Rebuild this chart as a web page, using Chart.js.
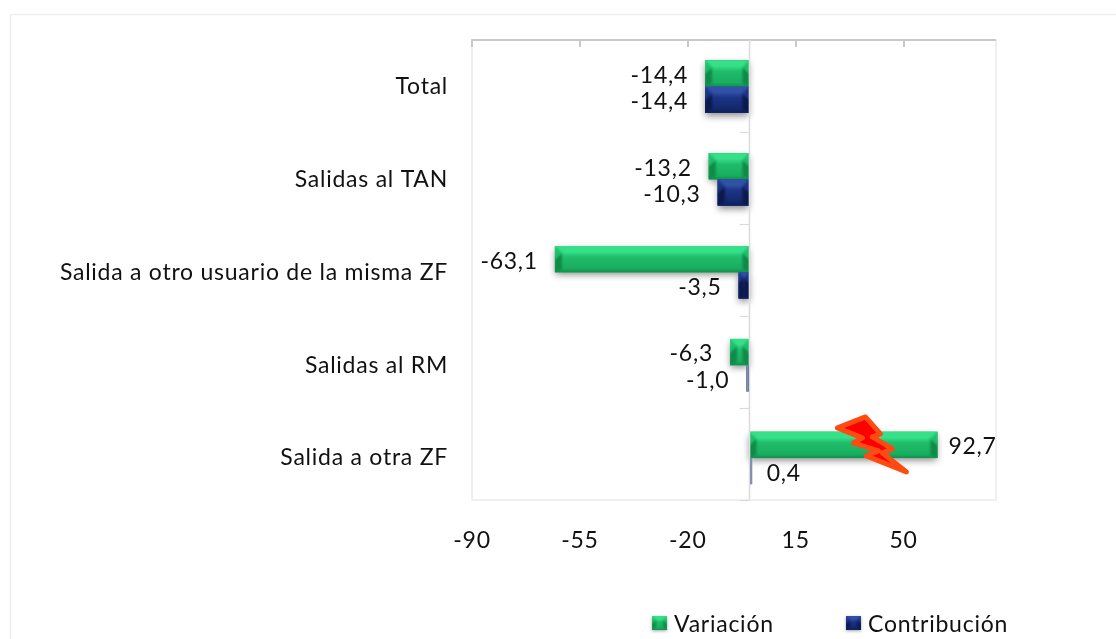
<!DOCTYPE html>
<html lang="es"><head><meta charset="utf-8">
<style>html,body{margin:0;padding:0;background:#fff}canvas{display:block}</style>
<script src="https://cdn.jsdelivr.net/npm/chart.js@4/dist/chart.umd.min.js"></script>
</head><body><div style="width:1116px;height:639px"><canvas id="c"></canvas></div>
<script>
const categories = ["Total","Salidas al TAN","Salida a otro usuario de la misma ZF","Salidas al RM","Salida a otra ZF"];
const seriesNames = ["Variación","Contribución"];
const variacion = [-14.4,-13.2,-63.1,-6.3,92.7];
const contribucion = [-14.4,-10.3,-3.5,-1.0,0.4];
// The reference cuts the last bar (lightning mark): 92,7 is drawn only as long as 61 on the axis.
const variacionDibujada = [-14.4,-13.2,-63.1,-6.3,61];
const tickValues = [-90,-55,-20,15,50];
const FONT = "Lato, sans-serif";
const fmt = v => v.toFixed(1).replace(".",",");
const GREEN = {main:"#19ad60",top:"#35e088",mid:"#1fbd6b",low:"#11904c",corner:"#0f8a48"};
const BLUE = {main:"#12286e",top:"#3150a8",mid:"#1c3585",low:"#0d1f58",corner:"#0b1a4e"};
const styles=[GREEN,BLUE];
const shown=[variacion,contribucion];
const FRAME_BOTTOM=500;

function bevel(ctx,x0,y0,x1,y1,s){
  const w=x1-x0,h=y1-y0;
  if(w<4)return;
  const g=ctx.createLinearGradient(0,y0,0,y1);
  g.addColorStop(0,s.top);g.addColorStop(.22,s.top);g.addColorStop(.42,s.mid);g.addColorStop(.85,s.main);g.addColorStop(1,s.low);
  ctx.fillStyle=g;ctx.fillRect(x0,y0,w,h);
  const d=Math.min(7,w/2,h/3.5);
  const poly=(c,p)=>{ctx.fillStyle=c;ctx.beginPath();p.forEach((q,i)=>i?ctx.lineTo(q[0],q[1]):ctx.moveTo(q[0],q[1]));ctx.closePath();ctx.fill();};
  ctx.save();
  ctx.filter="blur(0.8px)";
  ctx.beginPath();ctx.rect(x0,y0,w,h);ctx.clip();
  // corner wedges only, the long sides stay flat
  poly(s.mid,[[x0,y0],[x0+d,y0+d],[x0,y0+2*d]]);
  poly(s.mid,[[x1,y0],[x1-d,y0+d],[x1,y0+2*d]]);
  poly(s.corner,[[x0,y0+2*d],[x0+d,y0+d],[x0+d,y1-3],[x0,y1]]);
  poly(s.corner,[[x1,y0+2*d],[x1-d,y0+d],[x1-d,y1-3],[x1,y1]]);
  ctx.restore();
}
const deco={
  id:"deco",
  beforeDraw(ch){ch.ctx.letterSpacing="0.75px";},
  beforeDatasetsDraw(ch){
    const c=ch.ctx,a=ch.chartArea,xs=ch.scales.x;
    c.save();
    c.strokeStyle="#efefef";c.lineWidth=1.5;
    c.beginPath();c.moveTo(10.5,639);c.lineTo(10.5,14.5);c.lineTo(1116,14.5);c.stroke();
    c.strokeStyle="#ececec";c.lineWidth=1.5;
    c.beginPath();c.moveTo(a.left,a.top);c.lineTo(a.left,FRAME_BOTTOM);c.lineTo(a.right,FRAME_BOTTOM);c.lineTo(a.right,a.top);c.stroke();
    c.strokeStyle="#c8c8c8";c.lineWidth=2;
    c.beginPath();c.moveTo(a.left-1,a.top);c.lineTo(a.right,a.top);c.stroke();
    tickValues.forEach(v=>{const x=Math.round(xs.getPixelForValue(v));c.beginPath();c.moveTo(x,a.top);c.lineTo(x,a.top+7);c.stroke();});
    ch.data.datasets.forEach((d,di)=>ch.getDatasetMeta(di).data.forEach(b=>{
      const x0=Math.min(b.x,b.base),x1=Math.max(b.x,b.base),y0=b.y-b.height/2,y1=b.y+b.height/2;
      if(x1-x0<4)return;
      c.save();c.shadowColor="rgba(0,0,0,.45)";c.shadowBlur=7;c.shadowOffsetY=3;c.fillStyle=styles[di].main;
      c.fillRect(x0,y0,x1-x0,y1-y0);c.restore();
    }));
    c.restore();
  },
  afterDatasetsDraw(ch){
    const c=ch.ctx,a=ch.chartArea,xs=ch.scales.x;
    c.save();
    ch.data.datasets.forEach((d,di)=>ch.getDatasetMeta(di).data.forEach((b,i)=>{
      const x0=Math.min(b.x,b.base),x1=Math.max(b.x,b.base),y0=b.y-b.height/2,y1=b.y+b.height/2;
      bevel(c,x0,y0,x1,y1,styles[di]);
      const v=shown[di][i],neg=v<0;
      const gap=neg?17:(di===0?11:16);
      c.font="23px "+FONT;c.fillStyle="#111";c.textBaseline="middle";
      c.textAlign=neg?"right":"left";
      c.fillText(fmt(v),neg?x0-gap:x1+gap,b.y+2);
    }));
    // zero line and category ticks sit over the bar ends
    const z=Math.round(xs.getPixelForValue(0))+.5;
    c.strokeStyle="#dcdcdc";c.lineWidth=1.6;
    c.beginPath();c.moveTo(z,a.top);c.lineTo(z,FRAME_BOTTOM);c.stroke();
    c.lineWidth=1.2;
    for(let i=1;i<=categories.length;i++){
      const y=Math.round(a.top+(FRAME_BOTTOM-a.top)*i/categories.length)+.5;
      c.beginPath();c.moveTo(z-10,y);c.lineTo(z,y);c.stroke();
    }
    // hairline bars read as a washed-out blue beside the zero line
    ch.getDatasetMeta(1).data.forEach(b=>{
      const x0=Math.min(b.x,b.base),x1=Math.max(b.x,b.base),y0=b.y-b.height/2;
      if(x1-x0>=4)return;
      c.fillStyle="#8490ad";
      if(b.x>b.base)c.fillRect(z+.8,y0,2,b.height);else c.fillRect(x0,y0,x1-x0-.8,b.height);
    });
    // lightning-bolt annotation anchored to the cut bar's end
    const cut=ch.getDatasetMeta(0).data[4];
    const off=[[-100,-17],[-72,-28],[-57,-11],[-65,-8],[-45,4],[-55,8],[-31,27],[-71,11],[-59,6],[-84,-2],[-75,-7]];
    c.beginPath();off.forEach((o,i)=>{const X=cut.x+o[0],Y=cut.y+o[1];i?c.lineTo(X,Y):c.moveTo(X,Y);});c.closePath();
    c.fillStyle="#ff0000";c.strokeStyle="#ff4a12";c.lineWidth=5;c.lineJoin="round";c.fill();c.stroke();
    // legend
    const items=[[652,674,styles[0]],[846,868,styles[1]]];
    items.forEach((it,i)=>{
      c.save();c.shadowColor="rgba(0,0,0,.35)";c.shadowBlur=3;c.shadowOffsetY=1;c.fillStyle=it[2].main;c.fillRect(it[0],616,15,14);c.restore();
      bevel(c,it[0],616,it[0]+15,630,it[2]);
      c.font="23px "+FONT;c.fillStyle="#111";c.textAlign="left";c.textBaseline="middle";
      c.fillText(seriesNames[i],it[1],625);
    });
    c.restore();
  }
};
Chart.defaults.font.family=FONT;
new Chart(document.getElementById("c"),{
  type:"bar",
  data:{labels:categories,datasets:[
    {label:seriesNames[0],data:variacionDibujada,backgroundColor:GREEN.main,categoryPercentage:.565,barPercentage:1},
    {label:seriesNames[1],data:contribucion,backgroundColor:BLUE.main,categoryPercentage:.565,barPercentage:1}
  ]},
  options:{
    indexAxis:"y",responsive:true,maintainAspectRatio:false,animation:false,
    layout:{padding:{top:40,right:120,left:0,bottom:0}},
    plugins:{legend:{display:false},tooltip:{enabled:false},title:{display:false}},
    scales:{
      x:{min:-90,max:80,
        afterBuildTicks(s){s.ticks=tickValues.map(v=>({value:v}));},
        afterFit(s){s.height=134.5;},
        grid:{display:false},border:{display:false},
        ticks:{color:"#111",font:{size:23,family:FONT},padding:14,maxRotation:0,autoSkip:false}},
      y:{afterFit(s){s.width=472;},
        grid:{display:false},border:{display:false},
        ticks:{color:"#111",font:{size:23,family:FONT},padding:16,autoSkip:false}}
    }
  },
  plugins:[deco]
});
</script></body></html>
